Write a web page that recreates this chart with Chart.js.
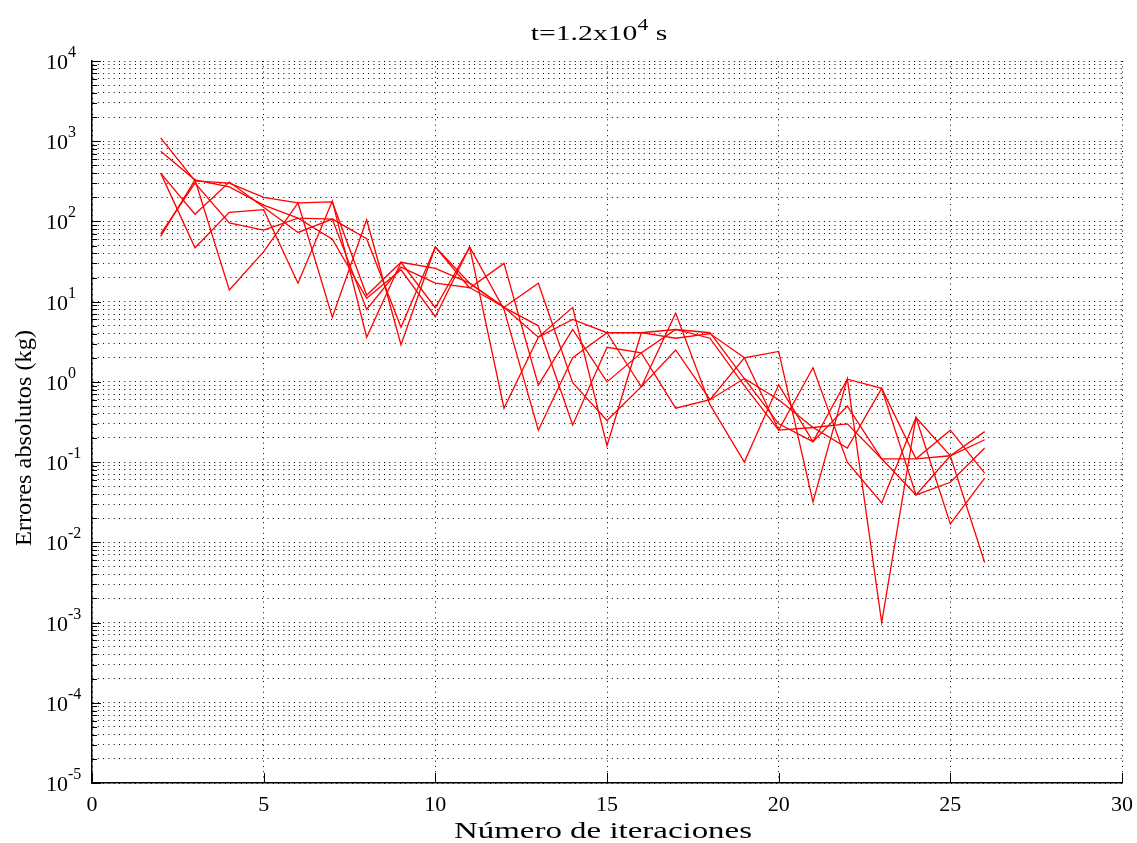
<!DOCTYPE html>
<html>
<head>
<meta charset="utf-8">
<script src="https://cdn.jsdelivr.net/npm/chart.js@4/dist/chart.umd.min.js"></script>
<style>
  html, body { margin: 0; padding: 0; background: #fff; }
  #wrap { width: 1137px; height: 843px; }
</style>
</head>
<body>
<div id="wrap"><canvas id="chart1"></canvas></div>
<script>
// iteration number (x) and absolute error per variable (kg)
var iteraciones = [2, 3, 4, 5, 6, 7, 8, 9, 10, 11, 12, 13, 14, 15, 16, 17, 18, 19, 20, 21, 22, 23, 24, 25, 26];
var error1 = [1100, 320, 300, 200, 170, 175, 12, 31, 26, 17, 8.5, 3.6, 8.5, 0.16, 4.1, 4.5, 4.1, 1.1, 0.6, 0.27, 0.3, 0.11, 0.039, 0.12, 0.24];
var error2 = [750, 330, 270, 160, 110, 107, 8, 27, 17, 15, 8.5, 17, 0.98, 0.33, 0.87, 7.2, 0.52, 0.1, 0.92, 0.18, 1.08, 0.83, 0.11, 0.12, 0.19];
var error3 = [400, 123, 310, 150, 73, 107, 61, 4.8, 48, 14.8, 30, 0.91, 4.5, 1.0, 2.3, 0.47, 0.6, 2.0, 2.4, 0.032, 1.1, 0.001, 0.36, 0.12, 0.0056];
var error4 = [400, 47, 130, 140, 17, 180, 3.6, 31, 8.4, 48, 0.47, 3.6, 6, 4.1, 4.1, 3.5, 4.0, 2.0, 0.25, 1.5, 0.1, 0.031, 0.36, 0.017, 0.063];
var error5 = [65, 330, 14, 42, 170, 6.4, 105, 2.9, 48, 17, 8.5, 5, 0.29, 2.7, 2.3, 4.5, 3.5, 0.9, 0.25, 0.27, 0.15, 0.83, 0.039, 0.056, 0.15];
var error6 = [70, 300, 96, 78, 110, 60, 11, 25, 6.5, 48, 8, 0.25, 2, 4.1, 0.87, 2.5, 0.6, 1.1, 0.3, 0.18, 0.5, 0.11, 0.11, 0.25, 0.073];

var xTicks = [0, 5, 10, 15, 20, 25, 30];
var decadas = [-5, -4, -3, -2, -1, 0, 1, 2, 3, 4];

var serif = '"Liberation Serif", "Times New Roman", serif';

// minor log ticks 1..9 x 10^k
var logTicks = [];
decadas.forEach(function (e) {
    for (var m = 1; m < 10; m++) {
        if (e === 4 && m > 1) break;
        logTicks.push({ value: m * Math.pow(10, e) });
    }
});

function serie(valores) {
    return {
        data: iteraciones.map(function (it, i) { return { x: it, y: valores[i] }; }),
        borderColor: '#ff0000',
        borderWidth: 1.3,
        pointRadius: 0,
        tension: 0,
        fill: false
    };
}

// text stretched horizontally to a given width (wide screen font look)
function textoAncho(ctx, txt, x, y, ancho) {
    var w = ctx.measureText(txt).width;
    ctx.save();
    ctx.translate(x, y);
    ctx.scale(ancho / w, 1);
    ctx.textAlign = 'center';
    ctx.fillText(txt, 0, 0);
    ctx.restore();
}

// axis ticks drawn inward, tick labels with superscripts, title and axis labels
var ejesMatlab = {
    id: 'ejesMatlab',
    afterDraw: function (chart) {
        var ctx = chart.ctx;
        var xs = chart.scales.x, ys = chart.scales.y;
        var area = chart.chartArea;
        ctx.save();
        ctx.strokeStyle = '#000';
        ctx.lineWidth = 1;

        // y ticks
        logTicks.forEach(function (t) {
            var y = Math.round(ys.getPixelForValue(t.value)) + 0.5;
            var dec = Math.abs(Math.log10(t.value) - Math.round(Math.log10(t.value))) < 1e-6;
            ctx.beginPath();
            ctx.moveTo(area.left, y);
            ctx.lineTo(area.left + (dec ? 9 : 5), y);
            ctx.stroke();
        });
        // x ticks
        xTicks.forEach(function (v) {
            var x = Math.round(xs.getPixelForValue(v)) + 0.5;
            ctx.beginPath();
            ctx.moveTo(x, area.bottom);
            ctx.lineTo(x, area.bottom - 10);
            ctx.stroke();
        });

        ctx.fillStyle = '#000';
        // x tick labels
        ctx.font = '22px ' + serif;
        ctx.textAlign = 'center';
        ctx.textBaseline = 'alphabetic';
        xTicks.forEach(function (v) {
            ctx.fillText(String(v), xs.getPixelForValue(v), 811);
        });

        // y tick labels 10^k
        decadas.forEach(function (e) {
            var y = ys.getPixelForValue(Math.pow(10, e));
            ctx.font = '22px ' + serif;
            ctx.textAlign = 'right';
            ctx.fillText('10', 68, y + 8);
            ctx.font = '16px ' + serif;
            ctx.textAlign = 'left';
            ctx.fillText(String(e), 68, y - 4);
        });

        // title t=1.2x10^4 s
        var a = 't=1.2x10', b = '4', c = ' s';
        var k = 1.35;
        ctx.font = '22px ' + serif;
        var wa = ctx.measureText(a).width * k, wc = ctx.measureText(c).width * k;
        ctx.font = '16px ' + serif;
        var wb = ctx.measureText(b).width * k;
        var x0 = 599 - (wa + wb + wc) / 2;
        ctx.font = '22px ' + serif;
        textoAncho(ctx, a, x0 + wa / 2, 40, wa);
        ctx.font = '16px ' + serif;
        textoAncho(ctx, b, x0 + wa + wb / 2, 30, wb);
        ctx.font = '22px ' + serif;
        textoAncho(ctx, 's', x0 + wa + wc - ctx.measureText('s').width * k / 2 + wb, 40, ctx.measureText('s').width * k);

        // axis labels
        ctx.font = '24px ' + serif;
        textoAncho(ctx, 'Número de iteraciones', 603, 838, 298);
        ctx.translate(31, 438);
        ctx.rotate(-Math.PI / 2);
        textoAncho(ctx, 'Errores absolutos (kg)', 0, 0, 216);
        ctx.restore();
    }
};

var canvas = document.getElementById('chart1');
canvas.width = 1137;
canvas.height = 843;
var ctx = canvas.getContext('2d');

var chart1 = new Chart(ctx, {
    type: 'line',
    data: {
        datasets: [serie(error1), serie(error2), serie(error3), serie(error4), serie(error5), serie(error6)]
    },
    options: {
        responsive: false,
        animation: false,
        layout: { padding: { left: 92, right: 15, top: 61, bottom: 60 } },
        plugins: {
            legend: { display: false },
            tooltip: { enabled: false }
        },
        scales: {
            x: {
                type: 'linear',
                min: 0,
                max: 30,
                afterBuildTicks: function (s) { s.ticks = xTicks.map(function (v) { return { value: v }; }); },
                afterFit: function (s) { s.height = 0; },
                ticks: { display: false },
                grid: { color: '#000', lineWidth: 1, drawTicks: false },
                border: { display: true, color: '#000', width: 1.5, dash: [1, 4.3] }
            },
            y: {
                type: 'logarithmic',
                min: 1e-5,
                max: 1e4,
                afterBuildTicks: function (s) { s.ticks = logTicks.slice(); },
                afterFit: function (s) { s.width = 0; },
                ticks: { display: false },
                grid: { color: '#000', lineWidth: 1, drawTicks: false },
                border: { display: true, color: '#000', width: 1.5, dash: [1, 4.3] }
            }
        }
    },
    plugins: [ejesMatlab]
});
</script>
</body>
</html>
